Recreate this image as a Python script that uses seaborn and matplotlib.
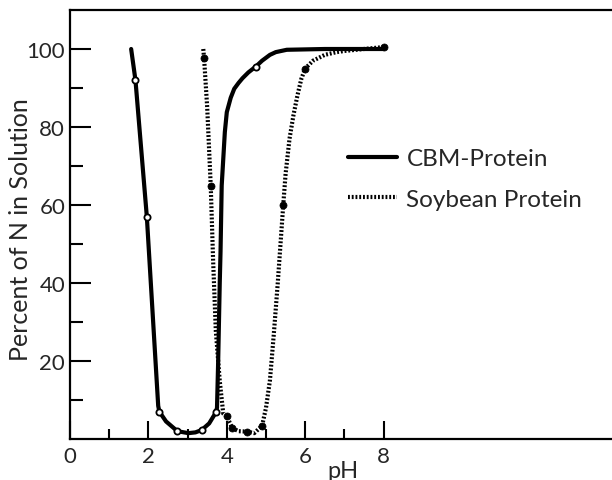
import matplotlib
matplotlib.use("Agg")
import matplotlib.pyplot as plt
import seaborn as sns

# CBM-Protein curve (solid) and its measured points (open circles)
cbm_ph = [1.56, 1.67, 1.96, 2.25, 2.28, 2.45, 2.74, 3.02, 3.20, 3.36, 3.55, 3.72,
          3.75, 3.78, 3.82, 3.84, 3.87, 3.95, 4.00, 4.10, 4.19, 4.30, 4.40, 4.55,
          4.74, 4.90, 5.10, 5.25, 5.53, 6.50, 8.00]
cbm_pct = [100, 92, 57, 8.5, 7, 4.5, 2.0, 1.5, 1.7, 2.3, 4.0, 6.8,
           8, 20, 40, 48, 65, 78.7, 83.8, 87.5, 89.8, 91.3, 92.5, 94.0,
           95.5, 97.0, 98.5, 99.2, 99.8, 100, 100]
cbm_pts_ph = [1.67, 1.96, 2.28, 2.74, 3.36, 3.72, 4.74]
cbm_pts_pct = [92, 57, 7, 2.0, 2.3, 6.8, 95.5]

# Soybean protein curve (dotted) and its measured points (filled circles)
soy_ph = [3.40, 3.42, 3.50, 3.59, 3.65, 3.72, 3.82, 3.91, 4.00, 4.14, 4.30, 4.52,
          4.70, 4.90, 5.00, 5.10, 5.20, 5.30, 5.44, 5.50, 5.60, 5.70, 5.80, 5.90,
          6.00, 6.20, 6.50, 6.80, 7.00, 8.00]
soy_pct = [100, 97.7, 85, 65, 46, 27.7, 14.9, 6.5, 5.8, 2.8, 2.0, 1.9,
           1.5, 3.4, 8, 15, 27, 40, 60, 68, 77, 83, 88, 92.3,
           95, 97, 98.5, 99.2, 99.5, 100.5]
soy_pts_ph = [3.42, 3.59, 4.00, 4.14, 4.52, 4.90, 5.44, 6.00, 8.00]
soy_pts_pct = [97.7, 65, 5.8, 2.8, 1.9, 3.4, 60, 95, 100.5]

sns.set_style("white")
plt.rcParams["font.family"] = ["Lato", "DejaVu Sans"]

fig = plt.figure(figsize=(6.12, 4.81), dpi=100)
ax = fig.add_axes([70 / 612, 41 / 481, 542 / 612, 429 / 481])

sns.lineplot(x=cbm_ph, y=cbm_pct, ax=ax, color="black", lw=3.0,
             label="CBM-Protein", sort=False)
sns.lineplot(x=soy_ph, y=soy_pct, ax=ax, color="black", lw=3.0,
             linestyle=(0, (0.45, 0.45)), dash_capstyle="butt",
             label="Soybean Protein", sort=False)
sns.scatterplot(x=cbm_pts_ph, y=cbm_pts_pct, ax=ax, s=20, color="white",
                edgecolor="black", linewidth=1.3, zorder=5, legend=False)
sns.scatterplot(x=soy_pts_ph, y=soy_pts_pct, ax=ax, s=26, color="black",
                edgecolor="black", linewidth=0.5, zorder=5, legend=False)

ax.set_xlim(0, 542 / 39.2)
ax.set_ylim(0, 110)

ax.set_xticks([0, 2, 4, 6, 8])
ax.set_xticks([1, 3, 5, 7], minor=True)
ax.set_yticks([20, 40, 60, 80, 100])
ax.set_yticks([10, 30, 50, 70, 90], minor=True)

ax.tick_params(axis="both", which="both", direction="in", color="black",
               width=1.5, labelsize=16, bottom=True, left=True,
               top=False, right=False)
ax.tick_params(axis="x", which="major", length=13, pad=5)
ax.tick_params(axis="x", which="minor", length=7)
ax.tick_params(axis="y", which="major", length=15, pad=3.5)
ax.tick_params(axis="y", which="minor", length=9)

for side in ["left", "bottom", "top"]:
    ax.spines[side].set_color("black")
    ax.spines[side].set_linewidth(1.6)
ax.spines["right"].set_visible(False)

ax.set_xlabel("pH", fontsize=17)
ax.xaxis.set_label_coords(0.504, -0.05)
ax.set_ylabel("Percent of N in Solution", fontsize=18)
ax.yaxis.set_label_coords(-0.07, 0.49)

ax.legend(loc="upper left", bbox_to_anchor=(0.513, 0.678), frameon=False,
          fontsize=17.5, handlelength=2.0, handletextpad=0.4, labelspacing=0.8,
          borderpad=0, borderaxespad=0)

fig.savefig("out.png", dpi=100)
